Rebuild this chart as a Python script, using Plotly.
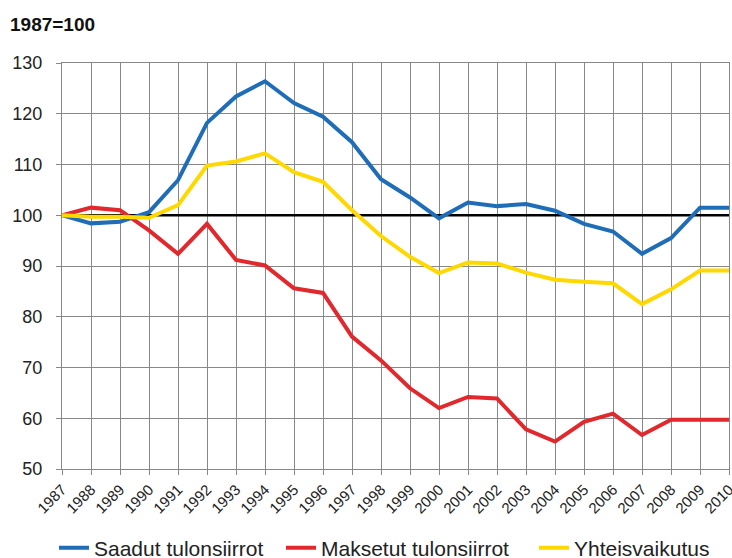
import plotly.graph_objects as go

years = list(range(1987, 2011))
saadut = [100, 98.4, 98.7, 100.6, 106.9, 118.2, 123.4, 126.4, 122.1, 119.4, 114.4, 107.1,
          103.5, 99.4, 102.5, 101.8, 102.2, 100.9, 98.3, 96.8, 92.4, 95.5, 101.5, 101.5]
maksetut = [100, 101.5, 101.0, 97.0, 92.4, 98.3, 91.2, 90.1, 85.6, 84.7, 76.1, 71.4,
            65.9, 62.0, 64.2, 63.9, 57.8, 55.4, 59.3, 60.9, 56.7, 59.7, 59.7, 59.7]
yhteis = [100, 99.7, 99.7, 99.5, 102.0, 109.8, 110.6, 112.2, 108.5, 106.6, 101.0, 95.9,
          91.8, 88.6, 90.7, 90.5, 88.7, 87.3, 86.9, 86.6, 82.5, 85.4, 89.1, 89.1]
base = [100] * len(years)
names = ["Saadut tulonsiirrot", "Maksetut tulonsiirrot", "Yhteisvaikutus"]
colors = ["#1f6db6", "#e0282d", "#ffd800"]
yticks = [50, 60, 70, 80, 90, 100, 110, 120, 130]
legend_ids = ["legend", "legend2", "legend3"]
legend_x = [54, 281, 534]

fig = go.Figure()
fig.add_trace(go.Scatter(x=years, y=base, mode="lines", showlegend=False,
                         line=dict(color="black", width=2.5), hoverinfo="skip"))
for name, vals, col, lid in zip(names, [saadut, maksetut, yhteis], colors, legend_ids):
    fig.add_trace(go.Scatter(x=years, y=vals, mode="lines", name=name, legend=lid,
                             line=dict(color=col, width=4)))

grid = "#888888"
legend_style = dict(orientation="h", xref="container", yref="container",
                    xanchor="left", y=1-548/558, yanchor="middle",
                    font=dict(size=21), itemwidth=30, bgcolor="rgba(0,0,0,0)")
fig.update_layout(
    width=732, height=558,
    margin=dict(l=62, r=3, t=63, b=89, autoexpand=False),
    paper_bgcolor="white", plot_bgcolor="white",
    font=dict(family="Liberation Sans, Arial, sans-serif", color="#222"),
    title=dict(text="<b>1987=100</b>", xref="container", yref="container",
               x=10/732, xanchor="left", y=1-24/558, yanchor="middle",
               font=dict(size=19, color="#111")),
    xaxis=dict(range=[1987, 2010], tickmode="array", tickvals=years,
               ticktext=[str(y) for y in years], tickangle=-45,
               tickfont=dict(size=15), showgrid=True, gridcolor=grid, gridwidth=1,
               showline=True, linecolor=grid, linewidth=1, mirror=True,
               ticks="outside", ticklen=5, tickcolor=grid, zeroline=False,
               automargin=False, ticklabeloverflow="allow", fixedrange=True),
    yaxis=dict(range=[50, 130], tickmode="array", tickvals=yticks,
               tickfont=dict(size=18), showgrid=True, gridcolor=grid, gridwidth=1,
               showline=True, linecolor=grid, linewidth=1, mirror=True,
               ticks="outside", ticklen=5, tickcolor=grid, zeroline=False,
               ticklabelstandoff=10,
               automargin=False, fixedrange=True),
    showlegend=True,
)
for lid, lx in zip(legend_ids, legend_x):
    fig.update_layout({lid: dict(legend_style, x=lx/732)})

fig.write_html("out.html", config={"displayModeBar": False},
               post_script="document.body.style.margin='0';document.body.style.overflow='hidden';")
